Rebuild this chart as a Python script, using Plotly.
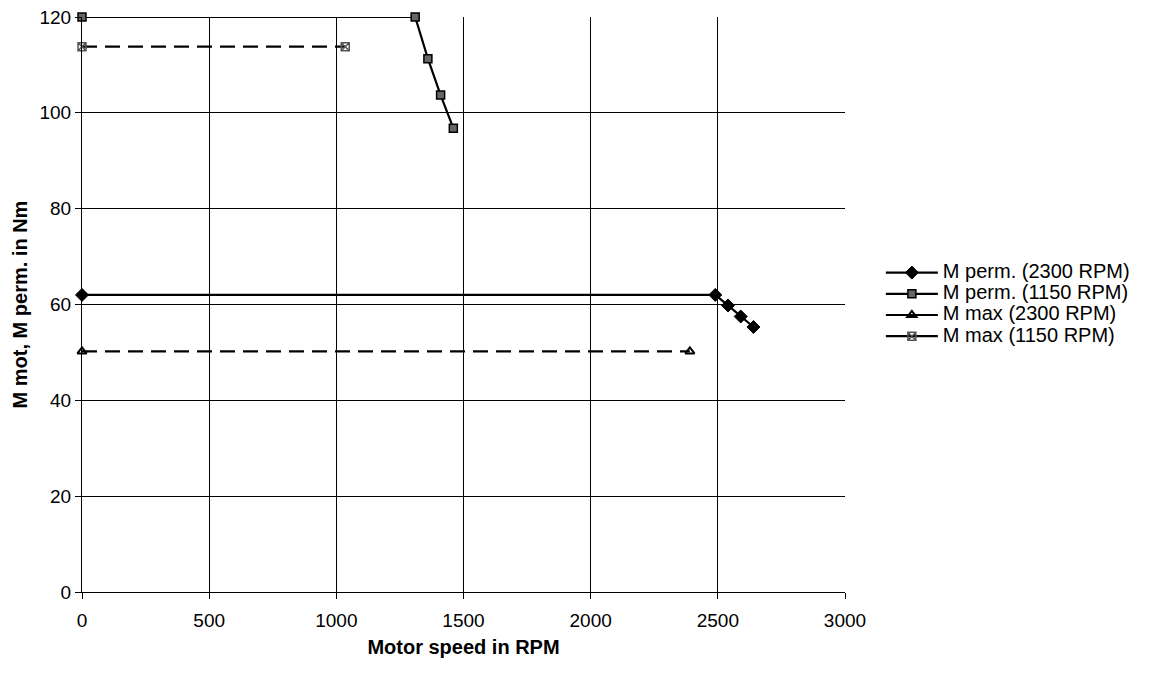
import plotly.graph_objects as go

# Data
perm2300_x = [0, 2490, 2540, 2590, 2640]
perm2300_y = [62.0, 62.0, 59.8, 57.5, 55.3]

perm1150_x = [0, 1310, 1360, 1410, 1460]
perm1150_y = [120.0, 120.0, 111.3, 103.7, 96.8]

max2300_x = [0, 2390]
max2300_y = [50.2, 50.2]

max1150_x = [0, 1035]
max1150_y = [113.8, 113.8]

names = ["M perm. (2300 RPM)", "M perm. (1150 RPM)", "M max (2300 RPM)", "M max (1150 RPM)"]

x_ticks = [0, 500, 1000, 1500, 2000, 2500, 3000]
y_ticks = [0, 20, 40, 60, 80, 100, 120]

FONT = "Liberation Sans, Arial, sans-serif"

markers = [
    dict(symbol="diamond", size=10, color="black", line=dict(color="black", width=1)),
    dict(symbol="square", size=8, color="#666666", line=dict(color="black", width=1.5)),
    dict(symbol="triangle-up-open", size=8, color="black", line=dict(color="black", width=2)),
    dict(symbol="square-x-open", size=8, color="#555555", line=dict(color="#555555", width=1.5)),
]
dashes = ["solid", "solid", "dash", "dash"]
series = [(perm2300_x, perm2300_y), (perm1150_x, perm1150_y), (max2300_x, max2300_y), (max1150_x, max1150_y)]

fig = go.Figure()
for (xs, ys), nm, mk, ds in zip(series, names, markers, dashes):
    fig.add_trace(go.Scatter(x=xs, y=ys, mode="lines+markers", name=nm,
                             line=dict(color="black", width=2.2, dash="15px,8px" if ds == "dash" else "solid"),
                             marker=mk, showlegend=False, cliponaxis=False))
# legend entries (solid lines like the original legend)
for nm, mk in zip(names, markers):
    fig.add_trace(go.Scatter(x=[None], y=[None], mode="lines+markers",
                             name='<span style="font-size:20px">' + nm + '</span>',
                             line=dict(color="black", width=2.2), marker=mk))

fig.update_layout(
    width=1144, height=665,
    margin=dict(l=74, r=307, t=9, b=81, autoexpand=False),
    paper_bgcolor="white", plot_bgcolor="white",
    font=dict(family=FONT, size=19, color="black"),
    legend=dict(x=1.047, y=0.5, xanchor="left", yanchor="middle",
                font=dict(size=14), tracegroupgap=0, itemwidth=52),
)
fig.update_xaxes(range=[0, 3000], tickvals=x_ticks, showgrid=True, gridcolor="black", gridwidth=1,
                 showline=True, linecolor="black", linewidth=1, ticks="outside", ticklen=6,
                 tickcolor="black", zeroline=False, automargin=False, ticklabelstandoff=5,
                 ticklabeloverflow="allow",
                 title=dict(text="<b>Motor speed in RPM</b>", font=dict(size=20), standoff=10))
fig.update_yaxes(range=[0, 120], tickvals=y_ticks, showgrid=True, gridcolor="black", gridwidth=1,
                 showline=True, linecolor="black", linewidth=1, ticks="outside", ticklen=6,
                 tickcolor="black", zeroline=False, automargin=False, ticklabeloverflow="allow",
                 title=dict(text="<b>M mot, M perm. in Nm</b>", font=dict(size=20), standoff=6))

fig.write_html("out.html")
